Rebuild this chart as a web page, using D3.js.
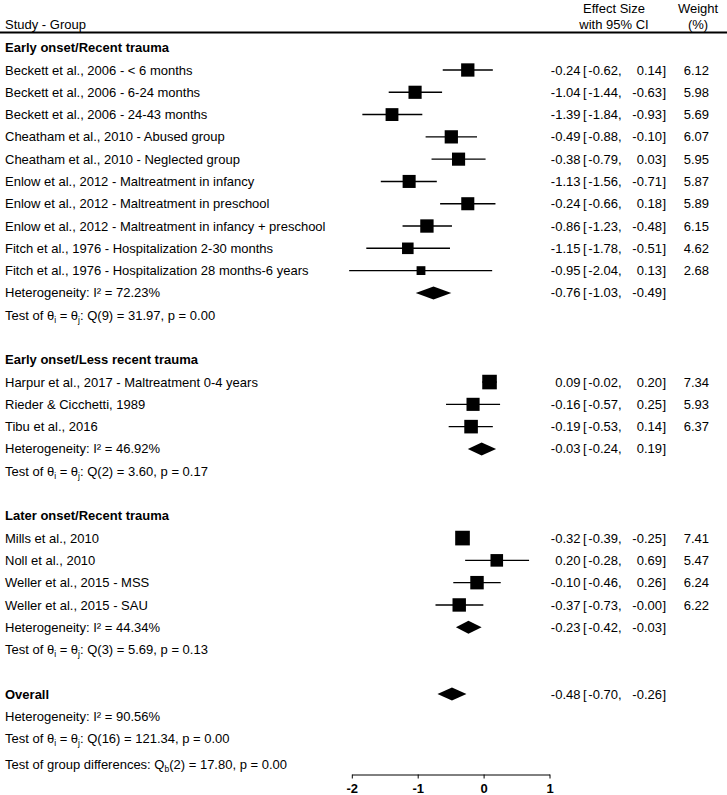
<!DOCTYPE html>
<meta charset="utf-8">
<style>
    body { margin: 0; background: #fff; }
    text { font-family: "Liberation Sans", Arial, sans-serif; font-size: 13px; fill: #000; }
    .bold { font-weight: bold; }
    .ci { stroke: #000; stroke-width: 1.4px; }
    .axis path, .axis line { stroke: #000; stroke-width: 1px; }
</style>
<svg width="727" height="795"></svg>
<script src="https://d3js.org/d3.v7.min.js"></script>
<script>
    // studies, by subgroup
    const groups = ["Early onset/Recent trauma", "Early onset/Less recent trauma", "Later onset/Recent trauma"];

    const studyLabels = [
        ["Beckett et al., 2006 - < 6 months", "Beckett et al., 2006 - 6-24 months", "Beckett et al., 2006 - 24-43 months",
         "Cheatham et al., 2010 - Abused group", "Cheatham et al., 2010 - Neglected group",
         "Enlow et al., 2012 - Maltreatment in infancy", "Enlow et al., 2012 - Maltreatment in preschool",
         "Enlow et al., 2012 - Maltreatment in infancy + preschool",
         "Fitch et al., 1976 - Hospitalization 2-30 months", "Fitch et al., 1976 - Hospitalization 28 months-6 years"],
        ["Harpur et al., 2017 - Maltreatment 0-4 years", "Rieder & Cicchetti, 1989", "Tibu et al., 2016"],
        ["Mills et al., 2010", "Noll et al., 2010", "Weller et al., 2015 - MSS", "Weller et al., 2015 - SAU"]
    ];
    const effect = [
        [-0.24, -1.04, -1.39, -0.49, -0.38, -1.13, -0.24, -0.86, -1.15, -0.95],
        [0.09, -0.16, -0.19],
        [-0.32, 0.20, -0.10, -0.37]
    ];
    const lower = [
        [-0.62, -1.44, -1.84, -0.88, -0.79, -1.56, -0.66, -1.23, -1.78, -2.04],
        [-0.02, -0.57, -0.53],
        [-0.39, -0.28, -0.46, -0.73]
    ];
    const upper = [
        [0.14, -0.63, -0.93, -0.10, 0.03, -0.71, 0.18, -0.48, -0.51, 0.13],
        [0.20, 0.25, 0.14],
        [-0.25, 0.69, 0.26, -0.004]
    ];
    const weight = [
        [6.12, 5.98, 5.69, 6.07, 5.95, 5.87, 5.89, 6.15, 4.62, 2.68],
        [7.34, 5.93, 6.37],
        [7.41, 5.47, 6.24, 6.22]
    ];

    // pooled estimates: three subgroups, then overall
    const pooledEffect = [-0.76, -0.03, -0.23, -0.48];
    const pooledLower = [-1.03, -0.24, -0.42, -0.70];
    const pooledUpper = [-0.49, 0.19, -0.03, -0.26];
    const iSquared = [72.23, 46.92, 44.34, 90.56];
    const qStat = [31.97, 3.60, 5.69, 121.34];
    const qDf = [9, 2, 3, 16];
    const qP = [0.00, 0.17, 0.13, 0.00];
    const groupDiff = { df: 2, q: 17.80, p: 0.00 };

    const xTicks = [-2, -1, 0, 1];

    const svg = d3.select("svg");
    const f2 = v => v.toFixed(2);

    const x = d3.scaleLinear().domain([-2, 1]).range([351.8, 549.5]);
    const y = d3.scaleLinear().domain([0, 1]).range([47.7, 69.99]);   // row index -> center

    // column positions
    const colLabel = 5, colEs = 580.5, colBr = 583, colLo = 618, colHi = 662, colW = 709;

    // header
    svg.append("text").attr("x", colLabel).attr("y", 24).attr("dy", "0.35em").text("Study - Group");
    svg.append("text").attr("x", 614).attr("y", 8).attr("dy", "0.35em").attr("text-anchor", "middle").text("Effect Size");
    svg.append("text").attr("x", 614).attr("y", 24).attr("dy", "0.35em").attr("text-anchor", "middle").text("with 95% CI");
    svg.append("text").attr("x", 698).attr("y", 8).attr("dy", "0.35em").attr("text-anchor", "middle").text("Weight");
    svg.append("text").attr("x", 698).attr("y", 24).attr("dy", "0.35em").attr("text-anchor", "middle").text("(%)");
    svg.append("line").attr("x1", 0).attr("x2", 727).attr("y1", 32.5).attr("y2", 32.5)
        .attr("stroke", "#000").attr("stroke-width", 2);

    const g = svg.append("g");

    function ciText(row, es, lo, hi, w) {
        const yy = y(row);
        g.append("text").attr("x", colEs).attr("y", yy).attr("dy", "0.35em").attr("text-anchor", "end").text(f2(es));
        g.append("text").attr("x", colBr).attr("y", yy).attr("dy", "0.35em").text("[");
        g.append("text").attr("x", colLo).attr("y", yy).attr("dy", "0.35em").attr("text-anchor", "end").text(f2(lo));
        g.append("text").attr("x", colLo).attr("y", yy).attr("dy", "0.35em").text(",");
        g.append("text").attr("x", colHi).attr("y", yy).attr("dy", "0.35em").attr("text-anchor", "end").text(f2(hi));
        g.append("text").attr("x", colHi + 0.5).attr("y", yy).attr("dy", "0.35em").text("]");
        if (w != null)
            g.append("text").attr("x", colW).attr("y", yy).attr("dy", "0.35em").attr("text-anchor", "end").text(f2(w));
    }

    function diamond(row, es, lo, hi) {
        const yy = y(row), h = 6.5;
        g.append("path")
            .attr("d", `M${x(lo)},${yy}L${x(es)},${yy - h}L${x(hi)},${yy}L${x(es)},${yy + h}Z`)
            .attr("fill", "#000");
    }

    function label(row, str, cls) {
        return g.append("text").attr("x", colLabel).attr("y", y(row)).attr("dy", "0.35em")
            .attr("class", cls || null).text(str);
    }

    function hetText(row, i) {
        label(row, "Heterogeneity: I\u00B2 = " + f2(iSquared[i]) + "%");
    }

    function testText(row, i) {
        const t = label(row, "Test of \u03B8");
        t.append("tspan").attr("font-size", "8.5px").attr("dy", 3).text("i");
        t.append("tspan").attr("dy", -3).text(" = \u03B8");
        t.append("tspan").attr("font-size", "8.5px").attr("dy", 3).text("j");
        t.append("tspan").attr("dy", -3).text(": Q(" + qDf[i] + ") = " + f2(qStat[i]) + ", p = " + f2(qP[i]));
    }

    let row = 0;
    groups.forEach((name, gi) => {
        label(row, name, "bold");
        row++;
        studyLabels[gi].forEach((s, si) => {
            const yy = y(row);
            const side = 5.38 * Math.sqrt(weight[gi][si]);
            label(row, s);
            g.append("line").attr("class", "ci")
                .attr("x1", x(lower[gi][si])).attr("x2", x(upper[gi][si]))
                .attr("y1", yy).attr("y2", yy);
            g.append("rect")
                .attr("x", x(effect[gi][si]) - side / 2).attr("y", yy - side / 2)
                .attr("width", side).attr("height", side).attr("fill", "#000");
            ciText(row, effect[gi][si], lower[gi][si], upper[gi][si], weight[gi][si]);
            row++;
        });
        hetText(row, gi);
        diamond(row, pooledEffect[gi], pooledLower[gi], pooledUpper[gi]);
        ciText(row, pooledEffect[gi], pooledLower[gi], pooledUpper[gi], null);
        row++;
        testText(row, gi);
        row += 2;
    });

    // overall
    label(row, "Overall", "bold");
    diamond(row, pooledEffect[3], pooledLower[3], pooledUpper[3]);
    ciText(row, pooledEffect[3], pooledLower[3], pooledUpper[3], null);
    row++;
    hetText(row, 3);
    row++;
    testText(row, 3);

    const gd = label(row + 1.15, "Test of group differences: Q");
    gd.append("tspan").attr("font-size", "8.5px").attr("dy", 3).text("b");
    gd.append("tspan").attr("dy", -3).text("(" + groupDiff.df + ") = " + f2(groupDiff.q) + ", p = " + f2(groupDiff.p));

    // axis
    const axis = svg.append("g").attr("class", "axis")
        .attr("transform", "translate(0,774.5)")
        .call(d3.axisBottom(x).tickValues(xTicks).tickSize(4).tickSizeOuter(0).tickFormat(d => String(d)));
    axis.selectAll("text").style("font-size", "13px").style("font-weight", "bold")
        .attr("font-family", "Liberation Sans").attr("fill", "#000").attr("dy", "0.85em");
    axis.select(".domain").attr("stroke", "#000");
</script>
